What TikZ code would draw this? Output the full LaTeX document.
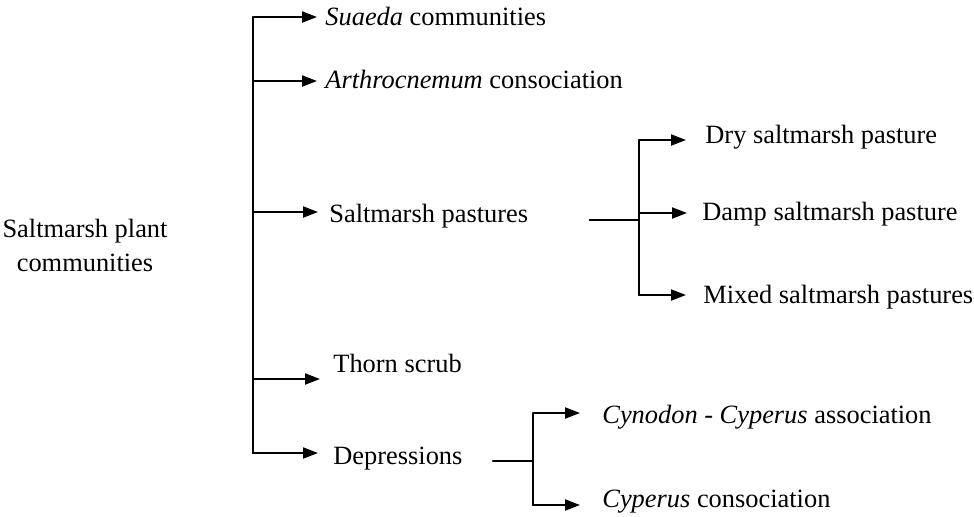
\documentclass[tikz,border=0pt]{standalone}
\usepackage{fontspec}
\setmainfont{Liberation Serif}
\usepackage{tikz}
\usetikzlibrary{arrows.meta, positioning}

\tikzset{
    link/.style={line width=1pt},
    arr/.style={link, -{Triangle[length=7.5pt, width=5.5pt]}},
    lbl/.style={anchor=base west, inner sep=0pt}
}

\begin{document}
\begin{tikzpicture}[x=0.5pt, y=-0.5pt, line join=round, line cap=round,
    font=\fontsize{13.2}{18}\selectfont]

        \useasboundingbox (0,0) rectangle (974,516);

        % =========================
        % ROOT
        % =========================
        \node[align=center, inner sep=0pt, anchor=base,
              font=\fontsize{13.2}{17}\selectfont] (root) at (85,271)
            {Saltmarsh plant\\communities};

        % =========================
        % TRUNK COORDINATES
        % =========================
        \coordinate (t1) at (253,17);
        \coordinate (t2) at (253,81);
        \coordinate (t3) at (253,212);
        \coordinate (t4) at (253,379);
        \coordinate (t5) at (253,453);

        % =========================
        % FIRST LEVEL
        % =========================
        \node[lbl] (suaeda) at (325,25)  {\textit{Suaeda} communities};
        \node[lbl] (arthro) at (325,88)  {\textit{Arthrocnemum} consociation};
        \node[lbl] (pasture) at (329,222) {Saltmarsh pastures};
        \node[lbl] (thorn) at (333,372)  {Thorn scrub};
        \node[lbl] (depr) at (333,464)   {Depressions};

        \draw[link] (t1) -- (t5);

        \draw[arr, shorten >=4pt]   (t1) -- (t1 -| suaeda.west);
        \draw[arr, shorten >=4pt]   (t2) -- (t2 -| arthro.west);
        \draw[arr, shorten >=5.5pt] (t3) -- (t3 -| pasture.west);
        \draw[arr, shorten >=6.5pt] (t4) -- (t4 -| thorn.west);
        \draw[arr, shorten >=7.5pt] (t5) -- (t5 -| depr.west);

        % =========================
        % SALTMARSH PASTURES
        % =========================
        \coordinate (pa) at (639,140);
        \coordinate (pd) at (639,213);
        \coordinate (pm) at (639,220);
        \coordinate (pb) at (639,295);

        \node[lbl] (dry) at (705,143)   {Dry saltmarsh pasture};
        \node[lbl] (damp) at (702,220)  {Damp saltmarsh pasture};
        \node[lbl] (mixed) at (703,303) {Mixed saltmarsh pastures};

        \draw[link, shorten <=30.5pt] (pasture.east |- pm) -- (pm);
        \draw[link] (pa) -- (pb);

        \draw[arr, shorten >=9.5pt] (pa) -- (pa -| dry.west);
        \draw[arr, shorten >=7.5pt] (pd) -- (pd -| damp.west);
        \draw[arr, shorten >=8.5pt] (pb) -- (pb -| mixed.west);

        % =========================
        % DEPRESSIONS
        % =========================
        \coordinate (da) at (533,413);
        \coordinate (dm) at (533,461);
        \coordinate (db) at (533,505);

        \node[lbl] (cynodon) at (602,423) {\textit{Cynodon} - \textit{Cyperus} association};
        \node[lbl] (cyperus) at (602,507) {\textit{Cyperus} consociation};

        \draw[link, shorten <=15pt] (depr.east |- dm) -- (dm);
        \draw[link] (da) -- (db);

        \draw[arr, shorten >=11pt] (da) -- (da -| cynodon.west);
        \draw[arr, shorten >=11pt] (db) -- (db -| cyperus.west);

    \end{tikzpicture}
\end{document}
